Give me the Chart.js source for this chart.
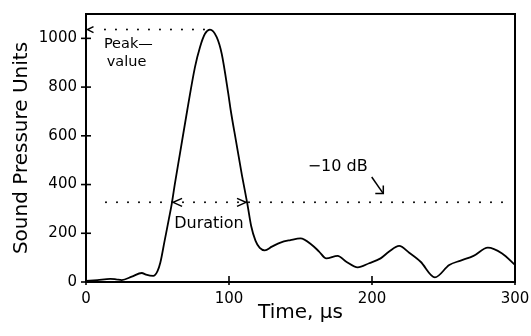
<!DOCTYPE html>
<html>
<head>
<meta charset="utf-8">
<script src="https://cdn.jsdelivr.net/npm/chart.js@4.4.1/dist/chart.umd.min.js"></script>
<style>
  html, body { margin: 0; padding: 0; background: #fff; }
  #wrap { width: 531px; height: 336px; }
</style>
</head>
<body>
<div id="wrap"><canvas id="c" width="531" height="336"></canvas></div>
<script>
// ---- data ----
const timeUs = [0, 8, 17, 21, 25, 32, 39, 42, 47, 50, 52, 55, 58, 60, 62.2, 65.7, 70.8, 76.2, 79.7, 83.2, 86.7, 91.4, 94.9, 99.5, 101.2, 105, 109, 112.8, 115.5, 118.5, 121.5, 125, 130, 136, 143, 150, 158, 163, 168, 176, 182, 190, 198, 206, 212, 219, 226, 234, 244, 254, 262, 271, 281, 291, 300];
const pressure = [4, 8, 13, 11, 8, 22, 37, 30, 25, 45, 80, 170, 260, 322, 405, 527, 705, 882, 964, 1019, 1036, 1005, 937, 773, 705, 575, 440, 322, 230, 170, 140, 130, 145, 162, 172, 179, 152, 125, 97, 107, 83, 60, 77, 97, 125, 148, 120, 83, 19, 70, 88, 107, 141, 117, 70];
const xTickValues = [0, 100, 200, 300];
const yTickValues = [0, 200, 400, 600, 800, 1000];
const peakValue = 1036;
const peakTime = 86.7;
const levelMinus10dB = 327;
const durationStart = 60.2;
const durationEnd = 112.6;
const xTitle = 'Time, μs';
const yTitle = 'Sound Pressure Units';

const FONT = 'DejaVu Sans';

const annotPlugin = {
  id: 'annot',
  beforeDraw(chart) {
    const ctx = chart.ctx;
    ctx.save();
    ctx.fillStyle = '#fff';
    ctx.fillRect(0, 0, chart.width, chart.height);
    ctx.restore();
  },
  afterDraw(chart) {
    const { ctx, chartArea: a, scales: { x, y } } = chart;
    const X = v => x.getPixelForValue(v), Y = v => y.getPixelForValue(v);
    ctx.save();
    ctx.strokeStyle = '#000';
    ctx.fillStyle = '#000';
    ctx.lineCap = 'butt';
    // frame top + right
    ctx.lineWidth = 2;
    ctx.beginPath();
    ctx.moveTo(a.left, a.top); ctx.lineTo(a.right, a.top); ctx.lineTo(a.right, a.bottom);
    ctx.stroke();
    // tick marks crossing the axes
    ctx.lineWidth = 1.6;
    yTickValues.forEach(v => {
      const py = Y(v);
      ctx.beginPath(); ctx.moveTo(a.left - 5, py); ctx.lineTo(a.left + 5, py); ctx.stroke();
    });
    xTickValues.forEach(v => {
      const px = X(v);
      ctx.beginPath(); ctx.moveTo(px, a.bottom - 6); ctx.lineTo(px, a.bottom + 3); ctx.stroke();
    });
    // dotted lines
    ctx.lineWidth = 2;
    ctx.lineCap = 'round';
    ctx.setLineDash([0, 11]);
    const pY = Y(peakValue);
    ctx.beginPath(); ctx.moveTo(X(peakTime) - 6, pY); ctx.lineTo(X(0) + 8, pY); ctx.stroke();
    const lY = Y(levelMinus10dB);
    ctx.beginPath(); ctx.moveTo(X(0) + 20, lY); ctx.lineTo(X(300) - 3, lY); ctx.stroke();
    ctx.setLineDash([]);
    ctx.lineCap = 'butt';
    ctx.lineWidth = 1.5;
    // arrowheads
    const head = (tx, ty, dir, len, half) => {
      ctx.beginPath();
      ctx.moveTo(tx + dir * len, ty - half); ctx.lineTo(tx, ty); ctx.lineTo(tx + dir * len, ty + half);
      ctx.stroke();
    };
    head(X(0) + 1.5, pY, 1, 6, 3);
    head(X(durationStart) + 1, lY, 1, 9, 4);
    head(X(durationEnd) - 1, lY, -1, 9, 4);
    // -10 dB arrow
    const ax0 = X(199.8), ay0 = Y(431), ax1 = X(207.9), ay1 = Y(363);
    ctx.beginPath(); ctx.moveTo(ax0, ay0); ctx.lineTo(ax1, ay1); ctx.stroke();
    ctx.beginPath(); ctx.moveTo(ax1 - 8, ay1); ctx.lineTo(ax1, ay1); ctx.lineTo(ax1, ay1 - 8); ctx.stroke();
    // texts
    ctx.font = '14.5px "' + FONT + '"';
    ctx.textBaseline = 'middle';
    ctx.textAlign = 'left';
    ctx.fillText('Peak—', X(12.5), Y(975));
    ctx.fillText('value', X(14.5), Y(900));
    ctx.font = '16px "' + FONT + '"';
    ctx.textAlign = 'center';
    ctx.fillText('Duration', X(86), Y(240));
    ctx.fillText('−10 dB', X(176), Y(471));
    ctx.restore();
  }
};

new Chart(document.getElementById('c'), {
  type: 'line',
  data: {
    datasets: [{
      data: timeUs.map((t, i) => ({ x: t, y: pressure[i] })),
      borderColor: '#000',
      borderWidth: 1.8,
      pointRadius: 0,
      fill: false,
      cubicInterpolationMode: 'monotone'
    }]
  },
  options: {
    responsive: false,
    animation: false,
    devicePixelRatio: 1,
    layout: { padding: { left: 10, top: 14, right: 16, bottom: 11 } },
    plugins: { legend: { display: false }, tooltip: { enabled: false } },
    scales: {
      x: {
        type: 'linear', min: 0, max: 300,
        afterBuildTicks: s => { s.ticks = xTickValues.map(v => ({ value: v })); },
        afterFit: s => { s.height = 43; s.paddingLeft = 0; s.paddingRight = 0; },
        grid: { display: false, drawTicks: false },
        border: { display: true, color: '#000', width: 2 },
        ticks: { color: '#000', font: { family: FONT, size: 15 }, padding: 8, maxRotation: 0, callback: v => String(v) },
        title: { display: true, text: xTitle, color: '#000', font: { family: FONT, size: 20 }, padding: 0 }
      },
      y: {
        type: 'linear', min: 0, max: 1100,
        afterBuildTicks: s => { s.ticks = yTickValues.map(v => ({ value: v })); },
        afterFit: s => { s.width = 76; s.paddingTop = 0; s.paddingBottom = 0; },
        grid: { display: false, drawTicks: false },
        border: { display: true, color: '#000', width: 2 },
        ticks: { color: '#000', font: { family: FONT, size: 15 }, padding: 9, callback: v => String(v) },
        title: { display: true, text: yTitle, color: '#000', font: { family: FONT, size: 20 }, padding: 0 }
      }
    }
  },
  plugins: [annotPlugin]
});
</script>
</body>
</html>
